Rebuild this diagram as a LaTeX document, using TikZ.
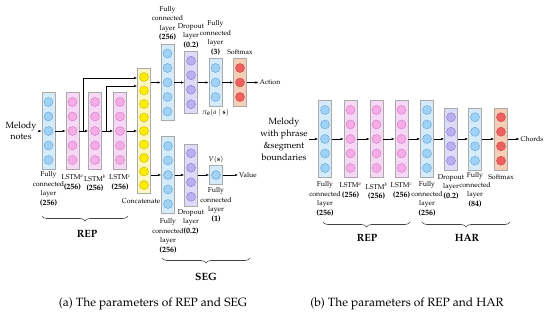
\documentclass[tikz,border=0pt]{standalone}
\usepackage[T1]{fontenc}
\usepackage{mathpazo}
\usepackage{amsmath, amssymb}
\usepackage{tikz}
\usetikzlibrary{calc, positioning, arrows.meta, decorations.pathreplacing}
\definecolor{boxEdge}{RGB}{170, 170, 170}
\definecolor{fcBg}{RGB}{212, 235, 250}
\definecolor{fcDot}{RGB}{160, 210, 245}
\definecolor{fcRim}{RGB}{100, 160, 210}
\definecolor{lstmBg}{RGB}{246, 216, 246}
\definecolor{lstmDot}{RGB}{246, 172, 230}
\definecolor{lstmRim}{RGB}{205, 120, 190}
\definecolor{catBg}{RGB}{251, 248, 192}
\definecolor{catDot}{RGB}{255, 236, 0}
\definecolor{catRim}{RGB}{200, 178, 0}
\definecolor{dropBg}{RGB}{220, 220, 248}
\definecolor{dropDot}{RGB}{186, 176, 240}
\definecolor{dropRim}{RGB}{130, 120, 210}
\definecolor{softBg}{RGB}{246, 206, 182}
\definecolor{softDot}{RGB}{240, 96, 96}
\definecolor{softRim}{RGB}{190, 70, 70}

\tikzset{
  layer/.style={draw=boxEdge, line width=0.8pt, minimum width=13pt, inner sep=0pt},
  fcbox/.style={layer, fill=fcBg},
  lstmbox/.style={layer, fill=lstmBg},
  catbox/.style={layer, fill=catBg},
  dropbox/.style={layer, fill=dropBg},
  softbox/.style={layer, fill=softBg},
  dot/.style={circle, minimum size=9pt, inner sep=0pt, line width=0.4pt},
  fcdot/.style={dot, fill=fcDot, draw=fcRim},
  lstmdot/.style={dot, fill=lstmDot, draw=lstmRim},
  catdot/.style={dot, fill=catDot, draw=catRim},
  dropdot/.style={dot, fill=dropDot, draw=dropRim},
  softdot/.style={dot, fill=softDot, draw=softRim},
  txt/.style={align=center, inner sep=1pt, font=\fontsize{7}{9.5}\selectfont},
  bigtxt/.style={align=center, inner sep=1pt, font=\fontsize{9}{11.5}\selectfont},
  grp/.style={inner sep=0pt, font=\fontsize{10.5}{12}\selectfont\bfseries},
  capt/.style={inner sep=0pt, font=\fontsize{12}{14}\selectfont},
  arr/.style={-{Latex[length=3pt, width=2.4pt]}, line width=0.5pt},
  grpbrace/.style={decorate, decoration={brace, mirror, amplitude=5pt}, line width=0.6pt, black!75}
}

% [spacing]{name}{kind}{x}{y}{number of units}
\newcommand{\nnlayer}[6][14.5]{%
  \node[#3box, minimum height={#6*#1+4}] (#2) at (#4,#5) {};
  \foreach \k in {1,...,#6}
    \node[#3dot] (#2-\k) at ($(#2.center)+(0,{(\k-(#6+1)/2)*#1})$) {};
}
\newcommand{\unitcount}[1]{{\fontsize{8}{9.5}\selectfont\textbf{#1}}}

\begin{document}
\begin{tikzpicture}[x=1pt, y=-1pt]
  \useasboundingbox (0,0) rectangle (550,318);

  % (a) REP and SEG
  \node[bigtxt] (mel) at (21,131) {Melody\\notes};
  \nnlayer{in1}{fc}{48.5}{131}{5}
  \nnlayer{la1}{lstm}{72.5}{131}{5}
  \nnlayer{la2}{lstm}{95}{131}{5}
  \nnlayer{la3}{lstm}{120}{131}{5}
  \nnlayer[13.5]{cat}{cat}{144}{131}{9}
  \nnlayer{tfc1}{fc}{167.5}{82.5}{5}
  \nnlayer{tdr}{drop}{191}{82.5}{4}
  \nnlayer{tfc2}{fc}{215.5}{82.5}{3}
  \nnlayer{tsm}{soft}{240}{82.5}{3}
  \nnlayer{bfc1}{fc}{168}{175}{5}
  \nnlayer{bdr}{drop}{191}{175}{4}
  \nnlayer{bfc2}{fc}{216}{175}{1}
  \node[txt] (action) at (270,82.5) {Action};
  \node[txt] (value) at (248,175) {Value};

  \draw[arr] (mel) -- (in1);
  \draw[arr] (in1) -- (la1);
  \draw[arr] (la1) -- (la2);
  \draw[arr] (la2) -- (la3);
  \draw[arr] (la3) -- (cat);
  % skip links into the concatenation
  \coordinate (br1) at ($(la1.east)!0.4!(la2.west)$);
  \coordinate (br2) at ($(la2.east)!0.35!(la3.west)$);
  \draw[arr] (br1) |- ([yshift=53pt]cat.west);
  \draw[arr] (br2) |- ([yshift=45pt]cat.west);
  \draw[arr] (cat.east |- tfc1.west) -- (tfc1.west);
  \draw[arr] (cat.east |- bfc1.west) -- (bfc1.west);
  \draw[arr] (tfc1) -- (tdr);
  \draw[arr] (tdr) -- (tfc2);
  \draw[arr] (tfc2) -- (tsm);
  \draw[arr] (tsm) -- (action);
  \draw[arr] (bfc1) -- (bdr);
  \draw[arr] (bdr) -- (bfc2);
  \draw[arr] (bfc2) -- (value);

  \node[txt, below=1pt of in1] (in1l) {Fully\\connected\\layer\\\unitcount{(256)}};
  \node[txt, below=4pt of la1] (la1l) {LSTM$^a$\\\unitcount{(256)}};
  \node[txt, below=4pt of la2] (la2l) {LSTM$^b$\\\unitcount{(256)}};
  \node[txt, below=4pt of la3] (la3l) {LSTM$^c$\\\unitcount{(256)}};
  \node[txt, below=3pt of cat, xshift=-3pt] (catl) {Concatenate};
  \node[txt, above=2pt of tfc1] (tfc1l) {Fully\\connected\\layer\\\unitcount{(256)}};
  \node[txt, above=2pt of tdr] (tdrl) {Dropout\\layer\\\unitcount{(0.2)}};
  \node[txt, above=2pt of tfc2] (tfc2l) {Fully\\connected\\layer\\\unitcount{(3)}};
  \node[txt, above=2pt of tsm] (tsml) {Softmax};
  \node[txt, below=1pt of tfc2] (pil) {$\pi_{\boldsymbol\theta}(a\mid\mathbf{s})$};
  \node[txt, below=4pt of bfc1] (bfc1l) {Fully\\connected\\layer\\\unitcount{(256)}};
  \node[txt, below=2pt of bdr] (bdrl) {Dropout\\layer\\\unitcount{(0.2)}};
  \node[txt, above=1pt of bfc2] (vl) {$V(\mathbf{s})$};
  \node[txt, below=2pt of bfc2] (bfc2l) {Fully\\connected\\layer\\\unitcount{(1)}};

  \draw[grpbrace] (42,216) -- (128,216);
  \node[grp] (rep1) at (87,234) {REP};
  \draw[grpbrace] (162,258) -- (250,258);
  \node[grp] (seg) at (206,277) {SEG};
  \node[capt] (capa) at (153,304) {(a) The parameters of REP and SEG};

  % (b) REP and HAR
  \node[bigtxt, font=\fontsize{9}{12}\selectfont] (mel2) at (284,139) {Melody\\with phrase\\\&segment\\boundaries};
  \nnlayer{rin}{fc}{325}{139}{5}
  \nnlayer{rl1}{lstm}{350.5}{139}{5}
  \nnlayer{rl2}{lstm}{376.5}{139}{5}
  \nnlayer{rl3}{lstm}{401.5}{139}{5}
  \nnlayer{rfc1}{fc}{427}{139}{5}
  \nnlayer{rdr}{drop}{451}{139}{4}
  \nnlayer{rfc2}{fc}{475}{139}{4}
  \nnlayer{rsm}{soft}{501}{139}{4}
  \node[txt] (chords) at (532,139) {Chords};

  \draw[arr] (mel2) -- (rin);
  \draw[arr] (rin) -- (rl1);
  \draw[arr] (rl1) -- (rl2);
  \draw[arr] (rl2) -- (rl3);
  \draw[arr] (rl3) -- (rfc1);
  \draw[arr] (rfc1) -- (rdr);
  \draw[arr] (rdr) -- (rfc2);
  \draw[arr] (rfc2) -- (rsm);
  \draw[arr] (rsm) -- (chords);

  \node[txt, below=3pt of rin] (rinl) {Fully\\connected\\layer\\\unitcount{(256)}};
  \node[txt, below=4pt of rl1] (rl1l) {LSTM$^a$\\\unitcount{(256)}};
  \node[txt, below=4pt of rl2] (rl2l) {LSTM$^b$\\\unitcount{(256)}};
  \node[txt, below=4pt of rl3] (rl3l) {LSTM$^c$\\\unitcount{(256)}};
  \node[txt, below=3pt of rfc1] (rfc1l) {Fully\\connected\\layer\\\unitcount{(256)}};
  \node[txt, below=3pt of rdr] (rdrl) {Dropout\\layer\\\unitcount{(0.2)}};
  \node[txt, below=1pt of rfc2] (rfc2l) {Fully\\connected\\layer\\\unitcount{(84)}};
  \node[txt, below=3pt of rsm] (rsml) {Softmax};

  \draw[grpbrace] (323,222) -- (410,222);
  \node[grp] (rep2) at (367,238) {REP};
  \draw[grpbrace] (422,222) -- (510,222);
  \node[grp] (har) at (467,238) {HAR};
  \node[capt] (capb) at (407,304) {(b) The parameters of REP and HAR};
\end{tikzpicture}
\end{document}
